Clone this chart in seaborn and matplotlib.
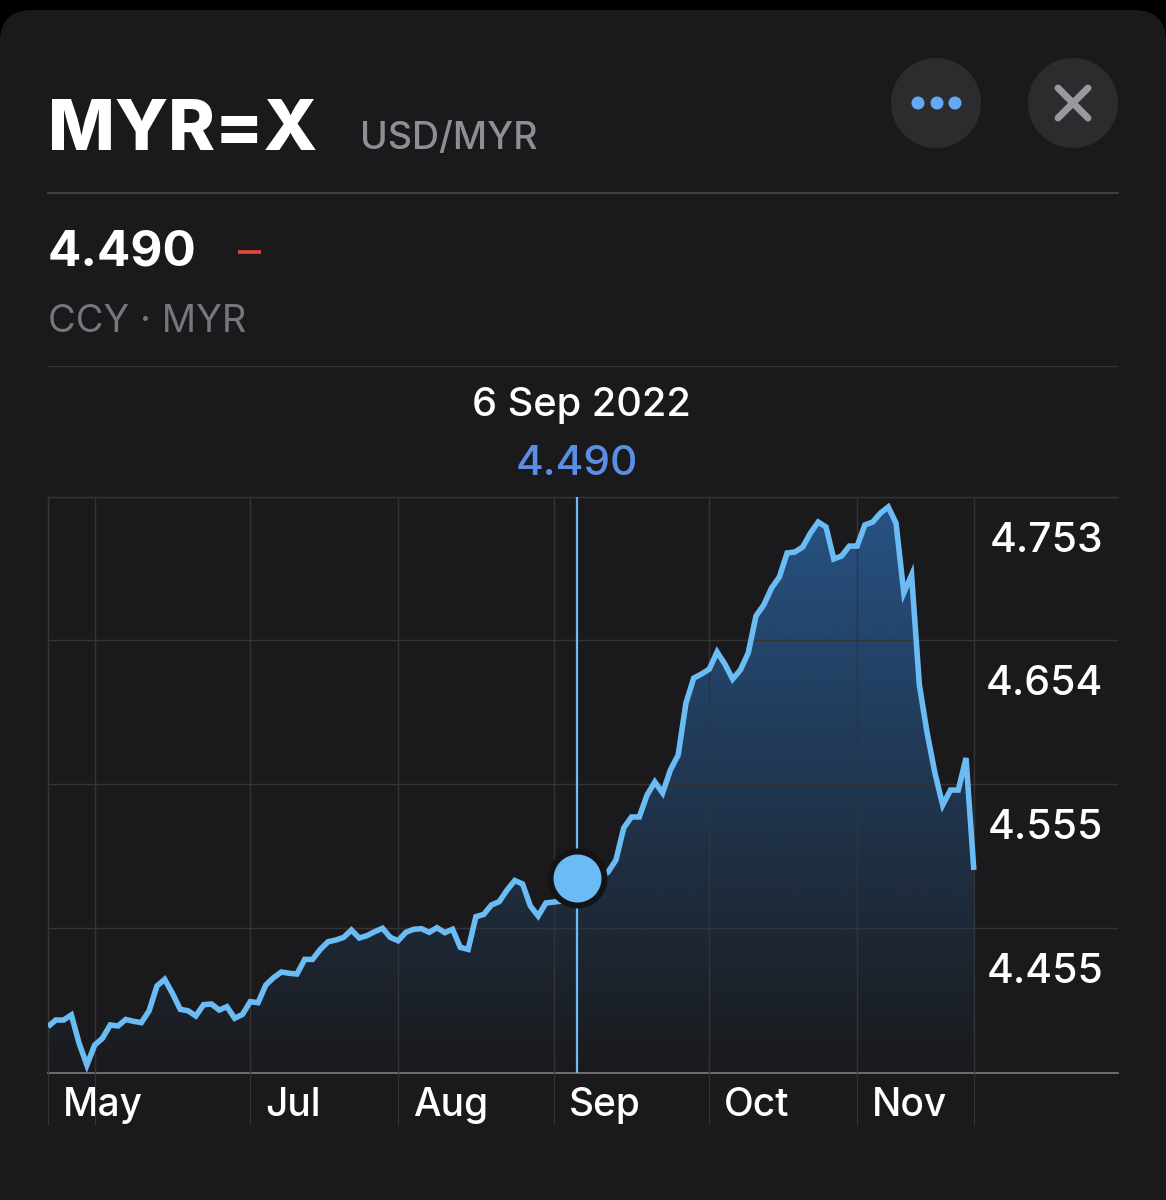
import numpy as np
import matplotlib
matplotlib.use("Agg")
import matplotlib.pyplot as plt
import seaborn as sns
from matplotlib.patches import FancyBboxPatch, Circle
from matplotlib.lines import Line2D
from matplotlib.transforms import Affine2D, ScaledTranslation

rates = [
    4.3870, 4.3916, 4.3916, 4.3951, 4.3755, 4.3605, 4.3743, 4.3790, 4.3882, 4.3875,
    4.3920, 4.3907, 4.3898, 4.3980, 4.4151, 4.4197, 4.4100, 4.3990, 4.3980, 4.3944,
    4.4022, 4.4027, 4.3985, 4.4008, 4.3928, 4.3955, 4.4043, 4.4036, 4.4158, 4.4209,
    4.4248, 4.4239, 4.4234, 4.4335, 4.4335, 4.4404, 4.4457, 4.4469, 4.4487, 4.4538,
    4.4483, 4.4499, 4.4527, 4.4550, 4.4487, 4.4464, 4.4522, 4.4543, 4.4547, 4.4522,
    4.4554, 4.4520, 4.4543, 4.4418, 4.4404, 4.4630, 4.4646, 4.4711, 4.4734, 4.4814,
    4.4880, 4.4856, 4.4704, 4.4635, 4.4725, 4.4731, 4.4738, 4.4814, 4.4900, 4.4883,
    4.4883, 4.4904, 4.4939, 4.5022, 4.5243, 4.5319, 4.5319, 4.5471, 4.5561, 4.5485,
    4.5644, 4.5747, 4.6107, 4.6279, 4.6307, 4.6341, 4.6459, 4.6376, 4.6272, 4.6335,
    4.6452, 4.6708, 4.6784, 4.6901, 4.6977, 4.7143, 4.7150, 4.7184, 4.7281, 4.7357,
    4.7323, 4.7102, 4.7122, 4.7191, 4.7191, 4.7337, 4.7357, 4.7419, 4.7461, 4.7350,
    4.6867, 4.6991, 4.6231, 4.5899, 4.5623, 4.5402, 4.5505, 4.5505, 4.5726, 4.4953,
]
sessions = list(range(len(rates)))
month_sessions = [0, 6, 26, 45, 65, 85, 104, 119]
month_labels = ["May", "", "Jul", "Aug", "Sep", "Oct", "Nov", ""]
rate_ticks = [4.753, 4.654, 4.555, 4.455]
rate_labels = ["4.753", "4.654", "4.555", "4.455"]
selected_session = 68
selected_rate = 4.490
selected_date = "6 Sep 2022"

BG = "#1a1a1c"
GRID = "#343436"
LINE = "#6bbcf4"
FONT = "Inter"
GREY = "#8e8e93"

sns.set_theme(style="dark")
plt.rcParams["font.family"] = [FONT, "DejaVu Sans"]

fig = plt.figure(figsize=(11.66, 12), dpi=100, facecolor="black")
px = Affine2D().scale(1, -1).translate(0, 1200)

# card
fig.patches.append(FancyBboxPatch((0, 10), 1166, 1230, boxstyle="round,pad=0,rounding_size=32",
                                  transform=px, fc=BG, ec="none", figure=fig, zorder=-5))

ax = fig.add_axes([48 / 1166, (1200 - 1073) / 1200, 1070 / 1166, 576 / 1200], facecolor="none")
ax.set_xlim(0, 1070 / 7.78)
ax.set_ylim(4.355, 4.753)

# gradient area
poly = ax.fill_between(sessions, rates, 4.355, color="none", lw=0)
n = 256
grad = np.zeros((n, 1, 4))
grad[..., :3] = matplotlib.colors.to_rgb("#28598f")
grad[..., 3] = np.linspace(0.92, 0.0, n).reshape(n, 1)
im = ax.imshow(grad, extent=[0, 1070 / 7.78, 4.355, 4.753], aspect="auto", origin="upper", zorder=1)
im.set_clip_path(poly.get_paths()[0], poly.get_transform())
ax.set_xlim(0, 1070 / 7.78)
ax.set_ylim(4.355, 4.753)

sns.lineplot(x=sessions, y=rates, ax=ax, color=LINE, linewidth=4.0, zorder=3, errorbar=None,
             solid_joinstyle="miter", solid_capstyle="butt")
ax.axvline(selected_session, color=LINE, lw=1.6, zorder=3.1)
ax.scatter([selected_session], [selected_rate], s=1510, color=LINE, edgecolor="#141416",
           linewidth=4.3, zorder=4, clip_on=False)

# axes / grid
ax.set_axisbelow(False)
ax.set_xlabel("")
ax.set_ylabel("")
ax.set_xticks(month_sessions)
ax.set_xticklabels(month_labels)
ax.set_yticks(rate_ticks)
ax.set_yticklabels(rate_labels)
ax.yaxis.tick_right()
ax.grid(True, color=GRID, lw=1)
ax.tick_params(axis="x", length=52 * 0.72, width=0.72, color=GRID, pad=-27, labelsize=28,
               labelcolor="white", bottom=True)
ax.tick_params(axis="y", length=0, pad=-12, labelsize=29.5, labelcolor="white", right=False)
for lab in ax.get_xticklabels():
    lab.set_ha("left")
    lab.set_fontweight("medium")
    lab.set_transform(lab.get_transform() + ScaledTranslation(15 / 100, 0, fig.dpi_scale_trans))
for lab in ax.get_yticklabels():
    lab.set_ha("right")
    lab.set_va("center")
    lab.set_fontweight("medium")
    lab.set_transform(lab.get_transform() + ScaledTranslation(2 / 100, -44 / 100, fig.dpi_scale_trans))
for s in ["top", "left"]:
    ax.spines[s].set_color(GRID)
    ax.spines[s].set_linewidth(1)
ax.spines["right"].set_visible(False)
ax.spines["bottom"].set_color("#7c7c80")
ax.spines["bottom"].set_linewidth(1.2)


def t(x, y, s, size, color, weight="normal", ha="left", va="baseline", **kw):
    fig.text(x, y, s, transform=px, fontsize=size, color=color, fontweight=weight, ha=ha, va=va, **kw)


# header
t(48, 150, "MYR=X", 51, "white", 800)
t(360, 149, "USD/MYR", 27, GREY, "medium")
t(48, 266, "4.490", 35.6, "white", "bold")
t(48, 332, "CCY · MYR", 27.4, "#77777b")
t(581.5, 416, selected_date, 28.6, "white", "medium", ha="center")
t(577, 475, f"{selected_rate:.3f}", 30.4, "#5b8fe6", "medium", ha="center")

fig.add_artist(Line2D([48, 1118], [193, 193], transform=px, color="#3f3f42", lw=1.6))
fig.add_artist(Line2D([48, 1118], [366, 366], transform=px, color="#343436", lw=0.9))
fig.add_artist(Line2D([238, 261], [252, 252], transform=px, color="#e5483a", lw=2.6, solid_capstyle="butt"))

# buttons
fig.add_artist(Circle((936, 103), 45, transform=px, fc="#2c2c2f", ec="none"))
fig.add_artist(Circle((1073, 103), 45, transform=px, fc="#2c2c2f", ec="none"))
for cx in [918, 937, 955]:
    fig.add_artist(Circle((cx, 103), 6.5, transform=px, fc="#64a8f8", ec="none", zorder=2))
for a, b in [((1058, 88), (1088, 118)), ((1058, 118), (1088, 88))]:
    fig.add_artist(Line2D([a[0], b[0]], [a[1], b[1]], transform=px, color="#98989d", lw=5,
                          solid_capstyle="round", zorder=3))

fig.savefig("out.png", dpi=100, facecolor="black")
